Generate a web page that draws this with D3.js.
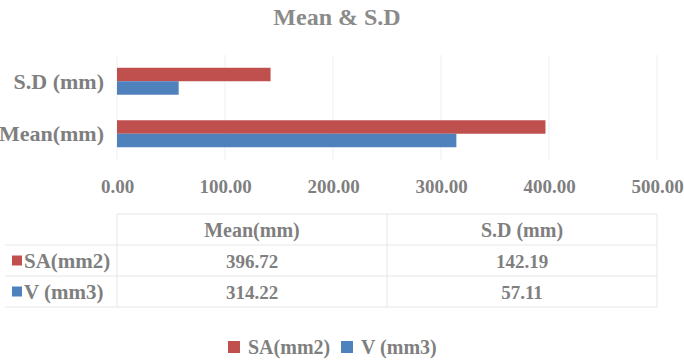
<!DOCTYPE html>
<html>
<head>
<meta charset="utf-8">
<script src="https://cdn.jsdelivr.net/npm/d3@7"></script>
<style>
  html, body { margin: 0; padding: 0; background: #fff; }
  svg { display: block; }
  text { font-family: "Liberation Serif", "Times New Roman", serif; font-weight: bold; fill: #7f7f7f; }
</style>
</head>
<body>
<svg id="chart" width="684" height="362"></svg>
<script>
// ---- data ----
const categories = ["Mean(mm)", "S.D (mm)"];
const seriesNames = ["SA(mm2)", "V (mm3)"];
const saValues = [396.72, 142.19];
const vValues = [314.22, 57.11];
const xTicks = [0, 100, 200, 300, 400, 500];
const seriesColors = ["#c0504d", "#4f81bd"];

(function () {
const values = [saValues, vValues];
const svg = d3.select("#chart");
const serif = "'Liberation Serif', 'Times New Roman', serif";

const pL = 117, pR = 657, pT = 55, pB = 160;

const x = d3.scaleLinear().domain([0, 500]).range([pL, pR]);
// Excel reverses category order on bar charts
const y = d3.scaleBand().domain(categories.slice().reverse()).range([pT, pB])
  .paddingInner(0.486).paddingOuter(0.243);
const ySeries = d3.scaleBand().domain(seriesNames).range([0, y.bandwidth()]);

// title
svg.append("text").attr("x", 337).attr("y", 25).attr("text-anchor", "middle")
  .style("font-size", "24px").style("fill", "#8a8a8a").text("Mean & S.D");

// gridlines
svg.append("g").selectAll("line").data(xTicks).join("line")
  .attr("x1", d => x(d)).attr("x2", d => x(d))
  .attr("y1", pT).attr("y2", pB)
  .attr("stroke", "#efefef").attr("stroke-width", 1);

// bars
seriesNames.forEach((s, si) => {
  svg.append("g").selectAll("rect").data(categories).join("rect")
    .attr("x", x(0))
    .attr("y", (c) => y(c) + ySeries(s))
    .attr("width", (c, i) => x(values[si][i]) - x(0))
    .attr("height", ySeries.bandwidth())
    .attr("fill", seriesColors[si]);
});

// x axis labels
const xAxis = d3.axisBottom(x).tickValues(xTicks).tickFormat(d3.format(".2f")).tickSize(0).tickPadding(0);
const gx = svg.append("g").attr("transform", "translate(0,193)").call(xAxis);
gx.select(".domain").remove();
gx.selectAll("text").attr("dy", 0).attr("y", 0).style("font-size", "19px")
  .style("font-family", serif).style("font-weight", "bold").style("fill", "#7f7f7f");

// y axis labels
const yAxis = d3.axisLeft(y).tickSize(0).tickPadding(0);
const gy = svg.append("g").attr("transform", "translate(104,0)").call(yAxis);
gy.select(".domain").remove();
gy.selectAll("text").attr("dy", "0.35em").attr("x", 0).style("font-size", "22px")
  .style("font-family", serif).style("font-weight", "bold").style("fill", "#7f7f7f");

// data table
const colX = d3.scaleBand().domain(categories).range([pL, pR]);
const rowY = d3.scaleBand().domain(["header"].concat(seriesNames)).range([214, 307]);
const lineColor = "#e6e6e6";
const tbl = svg.append("g");
tbl.append("line").attr("x1", pL).attr("x2", pR).attr("y1", 214).attr("y2", 214).attr("stroke", lineColor);
[rowY("header") + rowY.bandwidth(), rowY(seriesNames[0]) + rowY.bandwidth(), 307].forEach(yy => {
  tbl.append("line").attr("x1", 5).attr("x2", pR).attr("y1", yy).attr("y2", yy).attr("stroke", lineColor);
});
[pL, colX(categories[1]), pR].forEach(xx => {
  tbl.append("line").attr("x1", xx).attr("x2", xx).attr("y1", 214).attr("y2", 307).attr("stroke", lineColor);
});
tbl.selectAll("text.hdr").data(categories).join("text").attr("class", "hdr")
  .attr("x", c => colX(c) + colX.bandwidth() / 2).attr("y", rowY("header") + rowY.bandwidth() / 2 + 7)
  .attr("text-anchor", "middle").style("font-size", "20px").text(c => c);
seriesNames.forEach((s, si) => {
  const cy = rowY(s) + rowY.bandwidth() / 2;
  tbl.append("rect").attr("x", 12).attr("y", cy - 5).attr("width", 10).attr("height", 10).attr("fill", seriesColors[si]);
  tbl.append("text").attr("x", 24).attr("y", cy + 7).style("font-size", "21px").text(s);
  tbl.selectAll("text.v" + si).data(categories).join("text").attr("class", "v" + si)
    .attr("x", c => colX(c) + colX.bandwidth() / 2).attr("y", cy + 7)
    .attr("text-anchor", "middle").style("font-size", "19px")
    .text((c, i) => values[si][i].toFixed(2));
});

// legend
const legend = svg.append("g");
const legX = [228, 341];
seriesNames.forEach((s, si) => {
  legend.append("rect").attr("x", legX[si]).attr("y", 341).attr("width", 12).attr("height", 12).attr("fill", seriesColors[si]);
  legend.append("text").attr("x", legX[si] + 20).attr("y", 354).style("font-size", "20px").text(s);
});
})();
</script>
</body>
</html>
